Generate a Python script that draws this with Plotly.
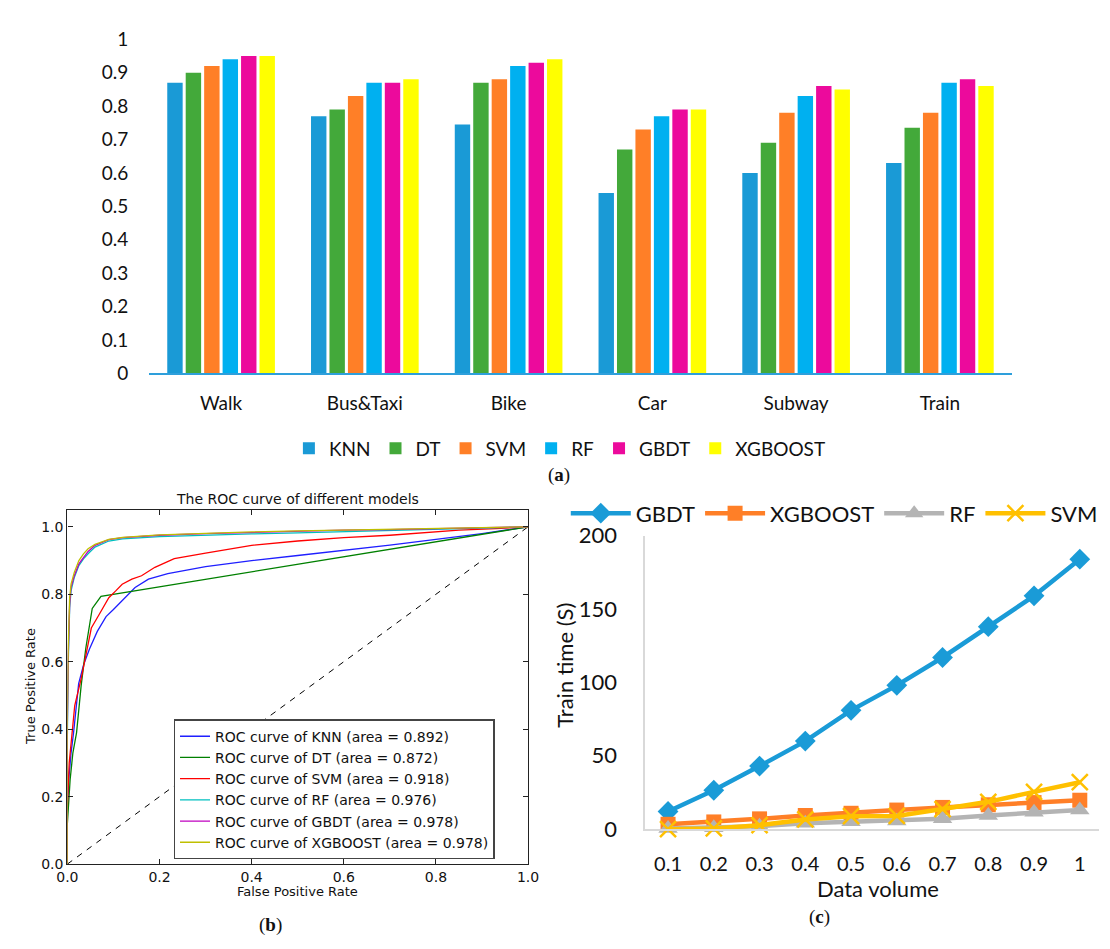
import plotly.graph_objects as go

W, H = 1110, 949

# ---------------- (a) accuracy bars ----------------
modes = ["Walk", "Bus&Taxi", "Bike", "Car", "Subway", "Train"]
bar_models = ["KNN", "DT", "SVM", "RF", "GBDT", "XGBOOST"]
acc_knn = [0.87, 0.77, 0.745, 0.54, 0.60, 0.63]
acc_dt = [0.90, 0.79, 0.87, 0.67, 0.69, 0.735]
acc_svm = [0.92, 0.83, 0.88, 0.73, 0.78, 0.78]
acc_rf = [0.94, 0.87, 0.92, 0.77, 0.83, 0.87]
acc_gbdt = [0.95, 0.87, 0.93, 0.79, 0.86, 0.88]
acc_xgb = [0.95, 0.88, 0.94, 0.79, 0.85, 0.86]
bar_colors = ["#1a9ad6", "#43a93a", "#ff7f27", "#00b0f0", "#ec0a9c", "#ffff00"]

# ---------------- (b) ROC curves ----------------
knn_fpr = [0, 0, 0.003, 0.008, 0.0135, 0.0245, 0.035, 0.048, 0.065, 0.084, 0.1, 0.112, 0.13, 0.147, 0.176, 0.218, 0.3, 0.4, 0.5, 0.6, 0.7, 0.8, 0.9, 1.0]
knn_tpr = [0, 0.15, 0.25, 0.33, 0.39, 0.535, 0.59, 0.638, 0.69, 0.734, 0.755, 0.772, 0.797, 0.82, 0.845, 0.861, 0.882, 0.9, 0.915, 0.93, 0.946, 0.963, 0.98, 1.0]
dt_fpr = [0, 0, 0.006, 0.012, 0.02, 0.03, 0.04, 0.054, 0.073, 1.0]
dt_tpr = [0, 0.12, 0.25, 0.33, 0.39, 0.53, 0.64, 0.758, 0.794, 1.0]
svm_fpr = [0, 0, 0.004, 0.01, 0.016, 0.03, 0.045, 0.052, 0.069, 0.09, 0.105, 0.119, 0.14, 0.161, 0.19, 0.232, 0.3, 0.4, 0.5, 0.6, 0.7, 0.77, 0.85, 0.93, 1.0]
svm_tpr = [0, 0.17, 0.3, 0.39, 0.47, 0.55, 0.65, 0.70, 0.74, 0.79, 0.81, 0.83, 0.845, 0.855, 0.88, 0.906, 0.922, 0.945, 0.958, 0.968, 0.975, 0.983, 0.99, 0.995, 1.0]
rf_fpr = [0, 0, 0.002, 0.005, 0.008, 0.015, 0.025, 0.035, 0.045, 0.06, 0.09, 0.12, 0.2, 0.3, 0.4, 0.5, 0.6, 0.7, 0.8, 0.9, 1.0]
rf_tpr = [0, 0.38, 0.6, 0.76, 0.81, 0.85, 0.885, 0.905, 0.92, 0.94, 0.958, 0.964, 0.971, 0.976, 0.979, 0.982, 0.985, 0.988, 0.992, 0.996, 1.0]
gbdt_fpr = [0, 0, 0.002, 0.005, 0.008, 0.015, 0.025, 0.035, 0.045, 0.06, 0.09, 0.12, 0.2, 0.3, 0.4, 0.5, 0.6, 0.7, 0.8, 0.9, 1.0]
gbdt_tpr = [0, 0.42, 0.62, 0.77, 0.82, 0.855, 0.89, 0.91, 0.927, 0.945, 0.962, 0.968, 0.975, 0.98, 0.984, 0.987, 0.99, 0.992, 0.995, 0.998, 1.0]
xgb_fpr = [0, 0, 0.002, 0.005, 0.008, 0.015, 0.025, 0.035, 0.045, 0.06, 0.09, 0.12, 0.2, 0.3, 0.4, 0.5, 0.6, 0.7, 0.8, 0.9, 1.0]
xgb_tpr = [0, 0.45, 0.65, 0.79, 0.83, 0.865, 0.9, 0.92, 0.935, 0.948, 0.963, 0.969, 0.976, 0.981, 0.985, 0.988, 0.99, 0.992, 0.995, 0.998, 1.0]
roc_names = ["ROC curve of KNN (area = 0.892)", "ROC curve of DT (area = 0.872)",
             "ROC curve of SVM (area = 0.918)", "ROC curve of RF (area = 0.976)",
             "ROC curve of GBDT (area = 0.978)", "ROC curve of XGBOOST (area = 0.978)"]
roc_colors = ["#1f1fff", "#008000", "#ff0000", "#00bfbf", "#bf00bf", "#bfbf00"]
chance = [0, 1]

# ---------------- (c) training time ----------------
volumes = ["0.1", "0.2", "0.3", "0.4", "0.5", "0.6", "0.7", "0.8", "0.9", "1"]
t_gbdt = [12, 26.5, 43, 60, 81, 98, 117, 138, 159, 184]
t_xgb = [3.3, 4.9, 7, 9.3, 10.8, 13, 14.8, 16.6, 18.1, 19.7]
t_rf = [0.5, 1, 2, 4, 5, 5.5, 7, 9.3, 11.5, 13]
t_svm = [0, 0.5, 2.7, 6.6, 8.8, 9, 13.7, 18.6, 25.4, 32]
line_names = ["GBDT", "XGBOOST", "RF", "SVM"]
line_colors = ["#1a9bd7", "#ff7f27", "#b4b4b4", "#ffc000"]
line_symbols = ["diamond", "square", "triangle-up", "x-thin"]


def px(x):
    return x / W


def py(y):
    return 1 - y / H


fig = go.Figure()

acc_series = [acc_knn, acc_dt, acc_svm, acc_rf, acc_gbdt, acc_xgb]
for name, vals, col in zip(bar_models, acc_series, bar_colors):
    fig.add_trace(go.Bar(x=modes, y=vals, name=name, marker=dict(color=col, line=dict(width=0)),
                         xaxis="x", yaxis="y", legend="legend"))

roc_fprs = [knn_fpr, dt_fpr, svm_fpr, rf_fpr, gbdt_fpr, xgb_fpr]
roc_tprs = [knn_tpr, dt_tpr, svm_tpr, rf_tpr, gbdt_tpr, xgb_tpr]
fig.add_trace(go.Scatter(x=chance, y=chance, mode="lines", line=dict(color="black", width=1, dash="6px,6px"),
                         showlegend=False, xaxis="x2", yaxis="y2"))
for i, (name, fx, ty, col) in enumerate(zip(roc_names, roc_fprs, roc_tprs, roc_colors)):
    fig.add_trace(go.Scatter(x=fx, y=ty, mode="lines", name=name, line=dict(color=col, width=1.3),
                             xaxis="x2", yaxis="y2", legend="legend2", legendgroup="g%d" % i))

times = [t_gbdt, t_xgb, t_rf, t_svm]
sizes = [16, 15, 17, 16]
for name, vals, col, sym, sz in zip(line_names, times, line_colors, line_symbols, sizes):
    mk = dict(symbol=sym, size=sz, color=col)
    if sym == "x-thin":
        mk["line"] = dict(color=col, width=2.5)
    fig.add_trace(go.Scatter(x=volumes, y=vals, mode="lines+markers", name=name,
                             line=dict(color=col, width=4.5), marker=mk, cliponaxis=False,
                             xaxis="x3", yaxis="y3", legend="legend3"))

calibri = "Lato, 'Open Sans', sans-serif"
mpl = "DejaVu Sans, sans-serif"

fig.update_layout(
    width=W, height=H, margin=dict(l=0, r=0, t=0, b=0),
    paper_bgcolor="white", plot_bgcolor="white",
    barmode="group", bargap=0.23, bargroupgap=0.165,
    xaxis=dict(domain=[px(141), px(1021)], anchor="y", type="category",
               showline=True, linecolor="#2e9fdb", linewidth=2, showgrid=False, ticks="",
               tickfont=dict(family=calibri, size=19, color="#111"), ticklabelstandoff=12),
    yaxis=dict(domain=[py(370), py(26)], anchor="x", range=[0, 1], dtick=0.1,
               showline=False, showgrid=False, zeroline=False, ticks="",
               tickfont=dict(family=calibri, size=19, color="#111"), ticklabelstandoff=20),
    xaxis2=dict(domain=[px(57.5), px(527.5)], anchor="y2", range=[0, 1], dtick=0.2, tickformat=".1f",
                showline=True, mirror="ticks", linecolor="#222", linewidth=1.3, showgrid=False, zeroline=False,
                ticks="inside", ticklen=5, tickcolor="#222",
                tickfont=dict(family=mpl, size=14, color="#111")),
    yaxis2=dict(domain=[py(875), py(510.5)], anchor="x2", range=[0, 1.05], tick0=0, dtick=0.2, tickformat=".1f",
                showline=True, mirror="ticks", linecolor="#222", linewidth=1.3, showgrid=False, zeroline=False,
                ticks="inside", ticklen=5, tickcolor="#222",
                tickfont=dict(family=mpl, size=14, color="#111")),
    xaxis3=dict(domain=[px(647), 1.0], anchor="y3", type="category", range=[-0.5, 9.42],
                showline=True, linecolor="#d9d9d9", linewidth=1.5, showgrid=False, ticks="",
                tickfont=dict(family=calibri, size=20, color="#111"), ticklabelstandoff=16),
    yaxis3=dict(domain=[py(839), py(537)], anchor="x3", range=[0, 200], dtick=50,
                showline=True, linecolor="#d9d9d9", linewidth=1.5, showgrid=False, zeroline=False, ticks="",
                tickfont=dict(family=calibri, size=22, color="#111"), ticklabelstandoff=22),
    legend=dict(orientation="h", x=px(560), xanchor="center", y=py(447), yanchor="middle",
                font=dict(family=calibri, size=19, color="#111"), bgcolor="rgba(0,0,0,0)",
                itemwidth=30, traceorder="normal"),
    legend2=dict(x=px(166), xanchor="left", y=py(726), yanchor="top",
                 font=dict(family=mpl, size=14, color="#111"), bgcolor="white",
                 bordercolor="#444", borderwidth=1.3, tracegroupgap=0, traceorder="normal",
                 itemwidth=30),
    legend3=dict(orientation="h", x=px(566), xanchor="left", y=py(514), yanchor="middle",
                 font=dict(family=calibri, size=22, color="#111"), bgcolor="rgba(0,0,0,0)",
                 itemwidth=60),
    showlegend=True,
)

annots = [
    dict(text="The ROC curve of different models", x=px(292), y=py(499), font=dict(family=mpl, size=14, color="#111")),
    dict(text="False Positive Rate", x=px(292), y=py(903), font=dict(family=mpl, size=13, color="#111")),
    dict(text="True Positive Rate", x=px(20), y=py(692), textangle=-90, font=dict(family=mpl, size=13, color="#111")),
    dict(text="Train time (S)", x=px(565), y=py(670), textangle=-90, font=dict(family=calibri, size=22, color="#111")),
    dict(text="Data volume", x=px(885), y=py(900), font=dict(family=calibri, size=22, color="#111")),
    dict(text="(<b>a</b>)", x=px(559), y=py(475), font=dict(family="Liberation Serif, serif", size=19, color="#111")),
    dict(text="(<b>b</b>)", x=px(265), y=py(938), font=dict(family="Liberation Serif, serif", size=19, color="#111")),
    dict(text="(<b>c</b>)", x=px(825), y=py(929), font=dict(family="Liberation Serif, serif", size=19, color="#111")),
]
for a in annots:
    a.update(xref="paper", yref="paper", showarrow=False, xanchor="center", yanchor="middle")
fig.update_layout(annotations=annots)

fig.write_html("out.html",
               post_script="document.body.style.margin='0';document.body.style.overflow='hidden';")
